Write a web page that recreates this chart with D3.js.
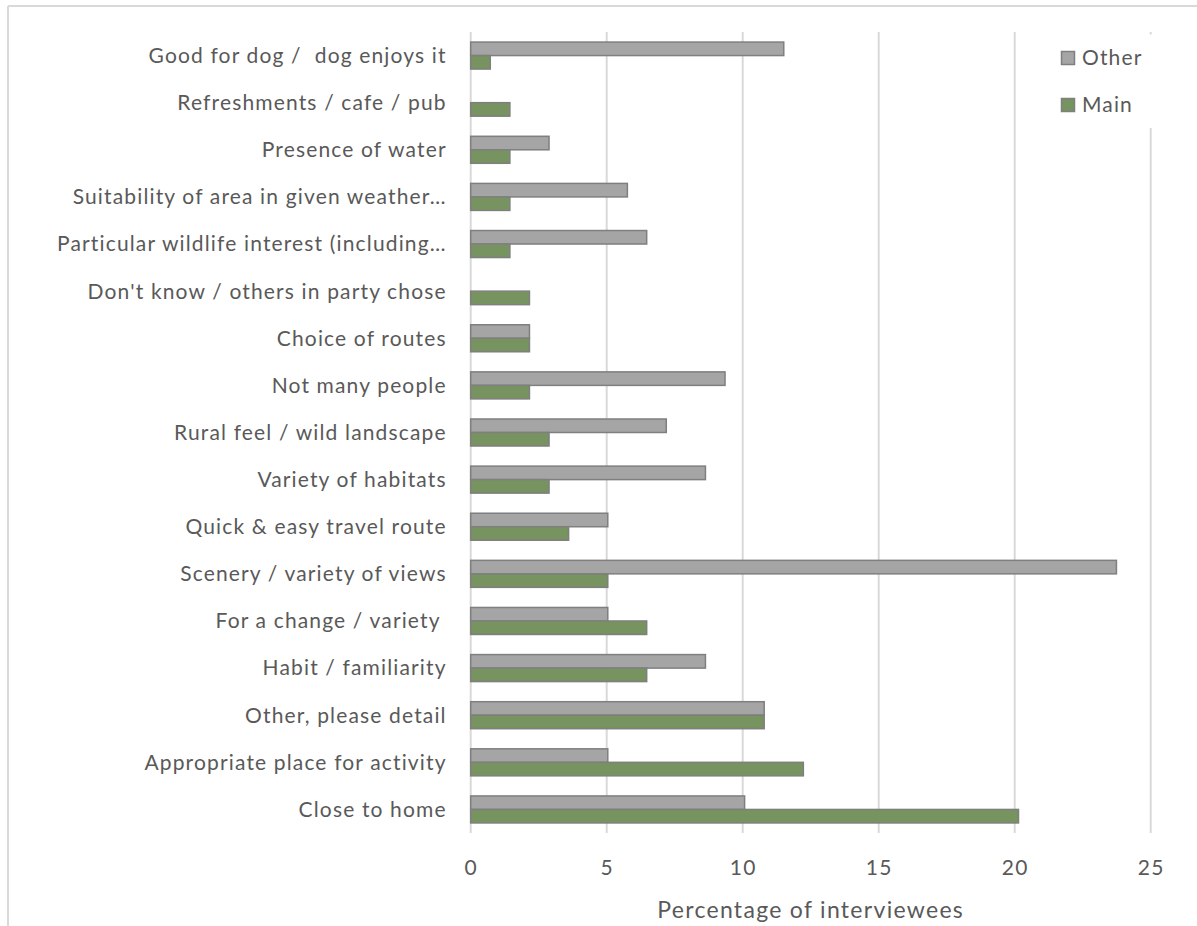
<!DOCTYPE html>
<html>
<head>
<meta charset="utf-8">
<script src="https://cdn.jsdelivr.net/npm/d3@7"></script>
<style>
  html, body { margin: 0; padding: 0; background: #fff; }
  svg { display: block; }
  text { font-family: Lato, "Open Sans", sans-serif; fill: #595959; white-space: pre; }
</style>
</head>
<body>
<svg id="chart" width="1197" height="926"></svg>
<script>
// Reasons for choosing the site, top to bottom
const categories = [
  "Good for dog /  dog enjoys it",
  "Refreshments / cafe / pub",
  "Presence of water",
  "Suitability of area in given weather…",
  "Particular wildlife interest (including…",
  "Don't know / others in party chose",
  "Choice of routes",
  "Not many people",
  "Rural feel / wild landscape",
  "Variety of habitats",
  "Quick & easy travel route",
  "Scenery / variety of views",
  "For a change / variety ",
  "Habit / familiarity",
  "Other, please detail",
  "Appropriate place for activity",
  "Close to home"
];

// Percentage of interviewees giving each as an "other" reason
const otherValues = [11.51, 0, 2.88, 5.76, 6.47, 0, 2.16, 9.35, 7.19, 8.63, 5.04, 23.74, 5.04, 8.63, 10.79, 5.04, 10.07];
// Percentage of interviewees giving each as their main reason
const mainValues = [0.72, 1.44, 1.44, 1.44, 1.44, 2.16, 2.16, 2.16, 2.88, 2.88, 3.60, 5.04, 6.47, 6.47, 10.79, 12.23, 20.14];

const seriesNames = ["Other", "Main"];
const xTicks = [0, 5, 10, 15, 20, 25];
const xTitle = "Percentage of interviewees";

const colors = { Other: "#a5a5a5", Main: "#77935f" };
const barStroke = "#7f7f7f";
const labelFont = 21;
const labelSpacing = "1.15px";

const rows = categories.map((c, i) => ({ category: c, Other: otherValues[i], Main: mainValues[i] }));

const svg = d3.select("#chart");

// Plot area
const plotLeft = 470.7, plotRight = 1150.7, plotTop = 32, plotBottom = 833;

const x = d3.scaleLinear().domain([0, 25]).range([plotLeft, plotRight]);
const y0 = d3.scaleBand().domain(categories).range([plotTop, plotBottom]).paddingInner(0.427).paddingOuter(0.2135);
const y1 = d3.scaleBand().domain(seriesNames).range([0, y0.bandwidth()]);

// Chart frame (top and left edges)
svg.append("line").attr("x1", 8).attr("x2", 1197).attr("y1", 6).attr("y2", 6)
  .attr("stroke", "#d9d9d9").attr("stroke-width", 2);
svg.append("line").attr("x1", 8).attr("x2", 8).attr("y1", 6).attr("y2", 926)
  .attr("stroke", "#d9d9d9").attr("stroke-width", 2);

// Vertical gridlines
svg.append("g")
  .selectAll("line")
  .data(xTicks)
  .join("line")
  .attr("x1", d => x(d)).attr("x2", d => x(d))
  .attr("y1", plotTop).attr("y2", plotBottom)
  .attr("stroke", "#d9d9d9").attr("stroke-width", 2);

// Bars
const groups = svg.append("g")
  .selectAll("g")
  .data(rows)
  .join("g")
  .attr("transform", d => `translate(0,${y0(d.category)})`);

groups.selectAll("rect")
  .data(d => seriesNames.map(s => ({ key: s, value: d[s] })).filter(e => e.value > 0))
  .join("rect")
  .attr("x", x(0))
  .attr("y", d => y1(d.key))
  .attr("width", d => x(d.value) - x(0))
  .attr("height", y1.bandwidth())
  .attr("fill", d => colors[d.key])
  .attr("stroke", barStroke)
  .attr("stroke-width", 1.5);

// Category labels
const yAxis = d3.axisLeft(y0).tickSize(0).tickPadding(24);
const yg = svg.append("g").attr("transform", `translate(${plotLeft},0)`).call(yAxis);
yg.select(".domain").remove();
yg.selectAll("text")
  .attr("font-size", labelFont).attr("fill", "#595959")
  .style("font-family", "Lato, 'Open Sans', sans-serif")
  .style("letter-spacing", labelSpacing)
  .attr("dy", "0.35em");

// Value axis labels
const xAxis = d3.axisBottom(x).tickValues(xTicks).tickSize(0).tickPadding(0);
const xg = svg.append("g").attr("transform", `translate(0,${plotBottom})`).call(xAxis);
xg.select(".domain").remove();
xg.selectAll("text")
  .attr("y", 35).attr("dy", "0.35em")
  .attr("font-size", labelFont).attr("fill", "#595959")
  .style("font-family", "Lato, 'Open Sans', sans-serif")
  .style("letter-spacing", labelSpacing);

// Axis title
svg.append("text")
  .attr("x", (plotLeft + plotRight) / 2)
  .attr("y", 910)
  .attr("dy", "0.35em")
  .attr("text-anchor", "middle")
  .attr("font-size", 23)
  .style("letter-spacing", "1.3px")
  .text(xTitle);

// Legend
const legend = svg.append("g");
legend.append("rect").attr("x", 1030).attr("y", 34.5).attr("width", 123).attr("height", 93.5).attr("fill", "#fff");
const legendRows = [{ key: "Other", cy: 58 }, { key: "Main", cy: 105 }];
legend.selectAll("g")
  .data(legendRows)
  .join("g")
  .each(function (d) {
    const g = d3.select(this);
    g.append("rect").attr("x", 1061.5).attr("y", d.cy - 6.5).attr("width", 13).attr("height", 13)
      .attr("fill", colors[d.key]).attr("stroke", barStroke).attr("stroke-width", 1.5);
    g.append("text").attr("x", 1082).attr("y", d.cy).attr("dy", "0.35em")
      .attr("font-size", labelFont).style("letter-spacing", labelSpacing).text(d.key);
  });
</script>
</body>
</html>
